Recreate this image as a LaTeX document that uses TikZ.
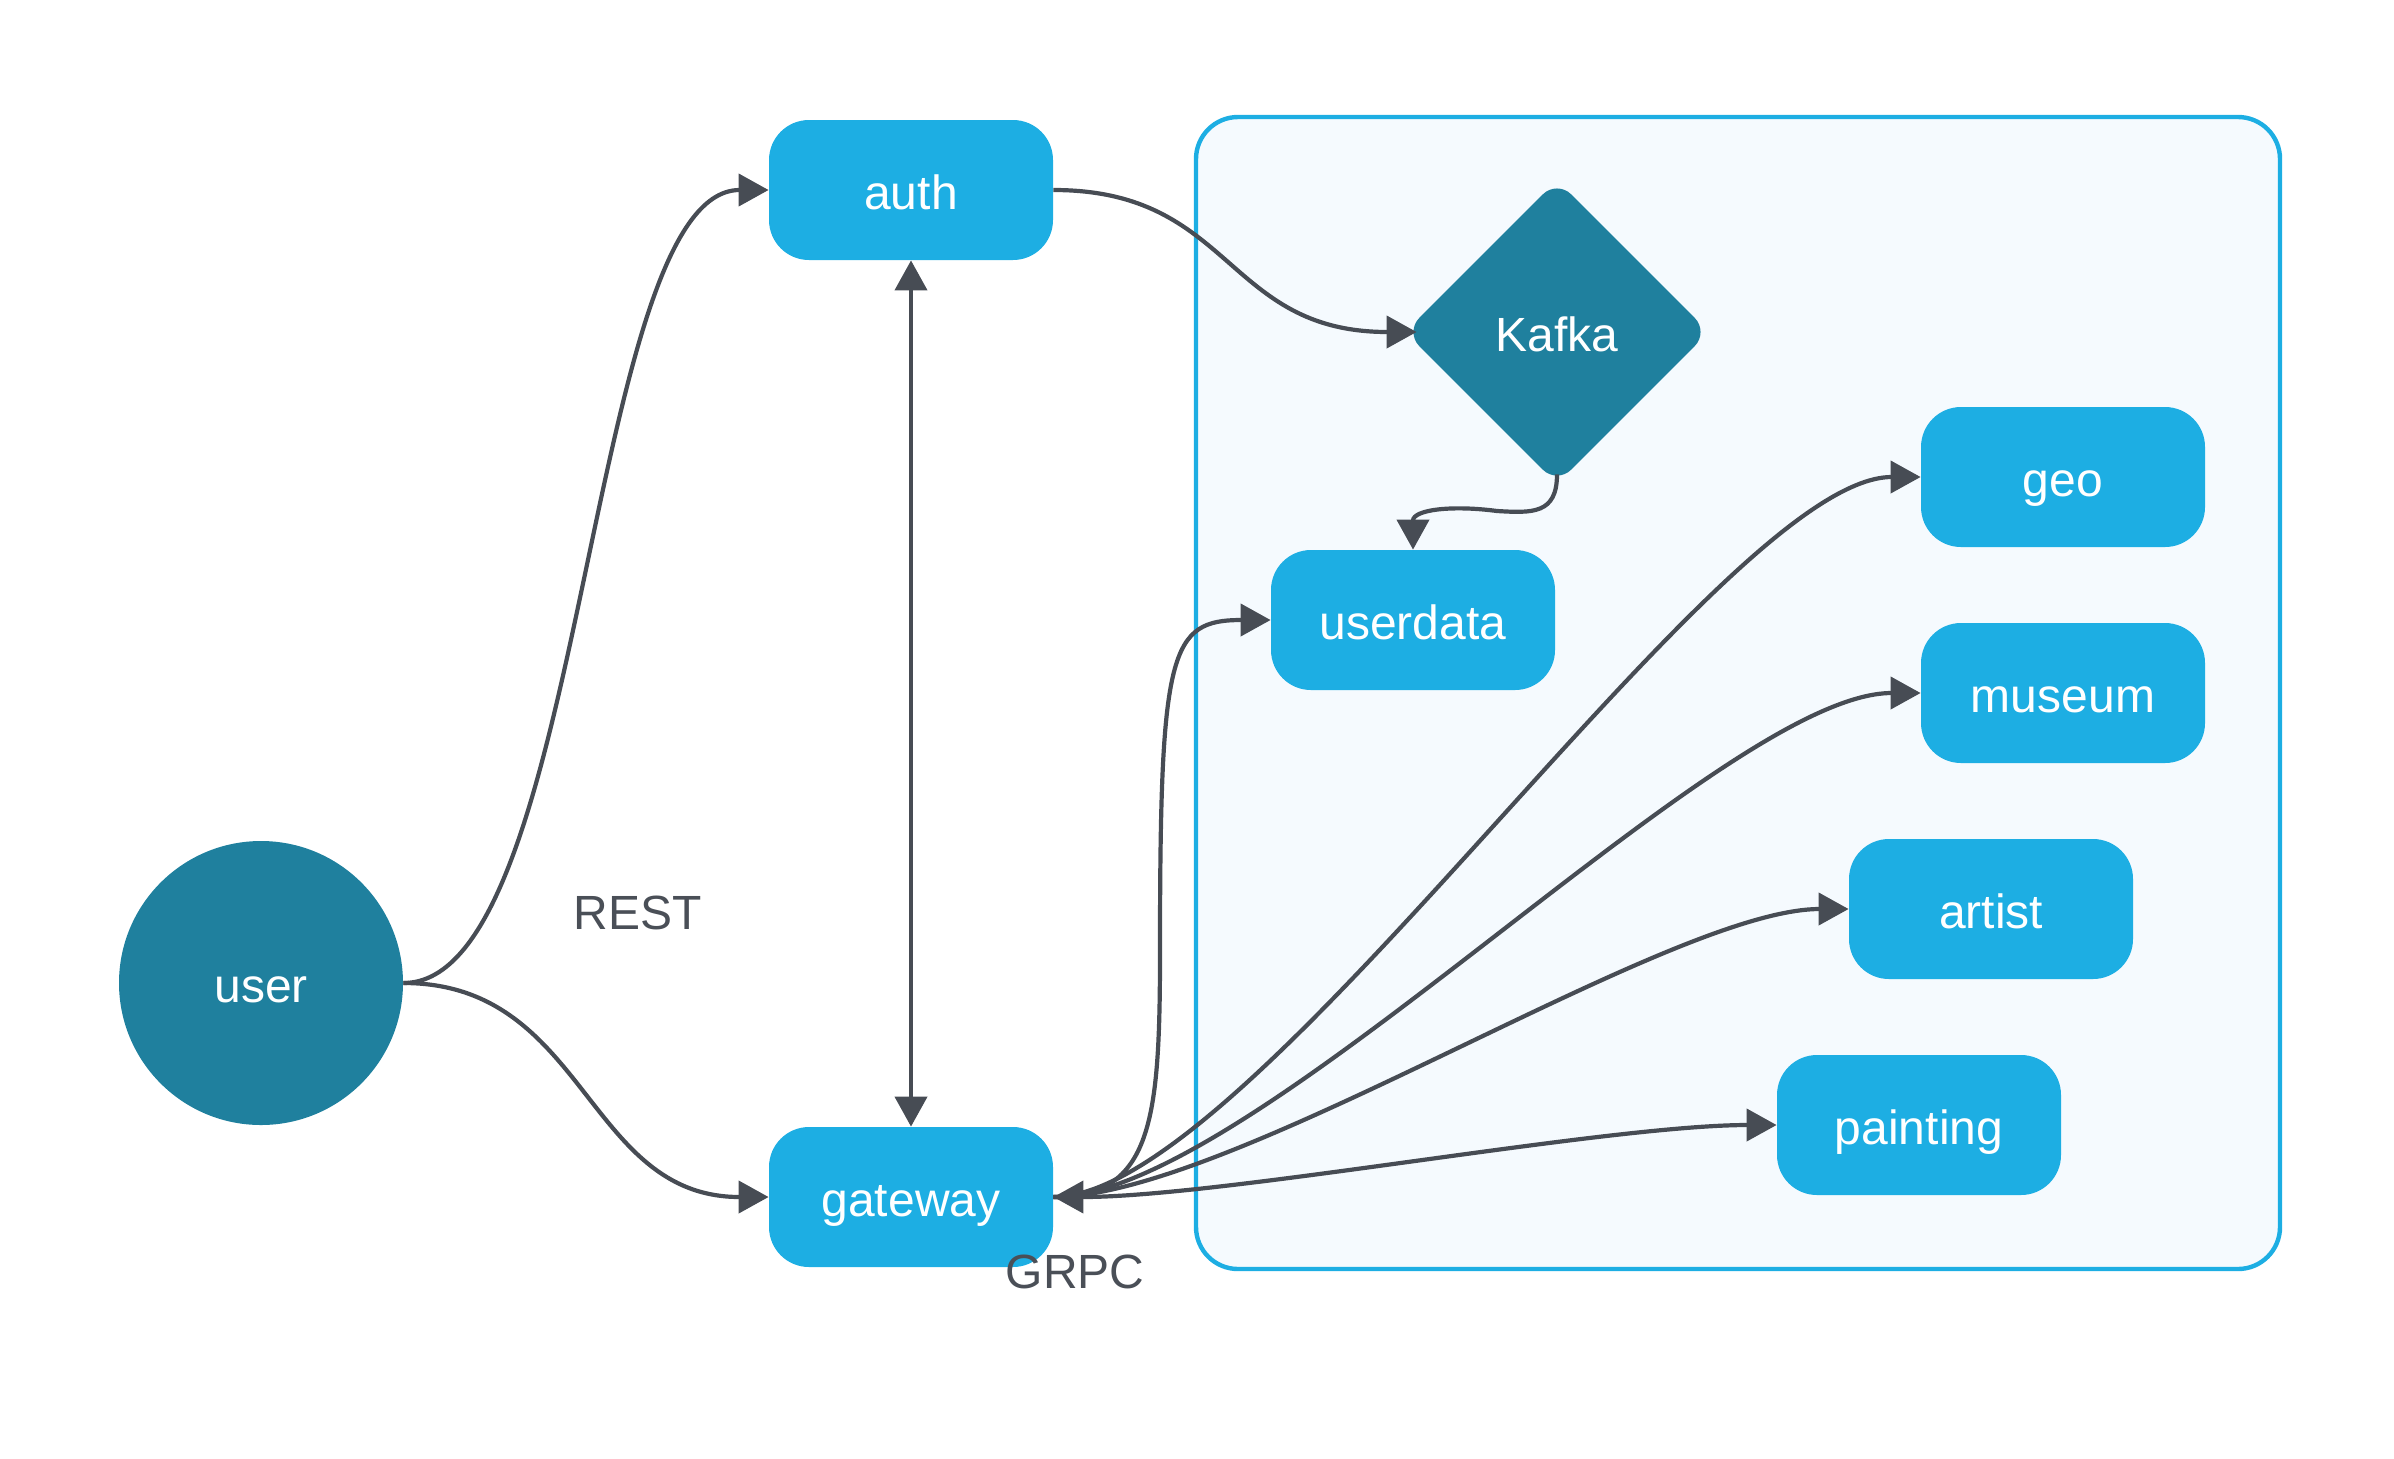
\documentclass[tikz,border=0pt]{standalone}
\usepackage{fontspec}
\setmainfont{Liberation Sans}
\usetikzlibrary{arrows.meta,shapes.geometric}
\definecolor{boxblue}{HTML}{1DAEE3}
\definecolor{darkteal}{HTML}{1F809E}
\definecolor{edgegray}{HTML}{474C54}
\definecolor{labelgray}{HTML}{4A4F57}
\definecolor{groupfill}{HTML}{F5FAFE}
\begin{document}
\begin{tikzpicture}[x=0.5pt,y=-0.5pt,
  txt/.style={font=\fontsize{24}{28}\selectfont, inner sep=0pt},
  svc/.style={txt, rectangle, rounded corners=20pt, fill=boxblue, text=white,
    minimum width=142pt, minimum height=70pt, text height=19.7pt, text depth=0pt},
  hub/.style={txt, fill=darkteal, text=white, text height=19.7pt, text depth=0pt},
  lbl/.style={txt, text=labelgray, text height=17.2pt, text depth=0pt},
  tip/.tip={Triangle[length=15pt,width=16pt]},
  link/.style={draw=edgegray, line width=2.1pt, -tip}]
\useasboundingbox (0,0) rectangle (2394,1458);
% group container
\draw[draw=boxblue, line width=2.2pt, fill=groupfill, rounded corners=21pt]
  (1196,117) rectangle (2280,1269);
% nodes
\node[hub, circle, minimum size=142pt] (user) at (261,983) {user};
\node[svc] (auth) at (911,190) {auth};
\node[svc] (gateway) at (911,1197) {gateway};
\node[hub, diamond, aspect=1, minimum width=152pt, minimum height=152pt, rounded corners=10pt] (kafka) at (1557,332) {Kafka};
\node[svc] (userdata) at (1413,620) {userdata};
\node[svc] (geo) at (2063,477) {geo};
\node[svc] (museum) at (2063,693) {museum};
\node[svc] (artist) at (1991,909) {artist};
\node[svc] (painting) at (1919,1125) {painting};
\node[lbl] (rest) at (638,912) {REST};
\node[lbl] (grpc) at (1075,1271) {GRPC};
% connectors
\draw[link] (user.east) .. controls +(183,0) and +(-183,0) .. (auth.west);
\draw[link] (user.east) .. controls +(183,0) and +(-183,0) .. (gateway.west);
\draw[link, tip-tip] (auth.south) -- (gateway.north);
\draw[link, shorten >=-6pt] (auth.east) .. controls +(180,0) and +(-180,0) .. (kafka.west);
\draw[link, shorten <=-5pt] (kafka.south) .. controls +(0,30) and +(35,2) .. (1497,511)
  .. controls +(-45,-6) and +(0,-40) .. (userdata.north);
\draw[link] (gateway.east) .. controls +(99,0) and +(0,170) .. (1160,950)
  .. controls +(0,-300) and +(-101,0) .. (userdata.west);
\draw[link] (gateway.east) .. controls +(200,0) and +(-200,0) .. (geo.west);
\draw[link] (gateway.east) .. controls +(200,0) and +(-200,0) .. (museum.west);
\draw[link] (gateway.east) .. controls +(180,0) and +(-180,0) .. (artist.west);
\draw[link, tip-tip] (gateway.east) .. controls +(170,0) and +(-170,0) .. (painting.west);
\end{tikzpicture}
\end{document}
